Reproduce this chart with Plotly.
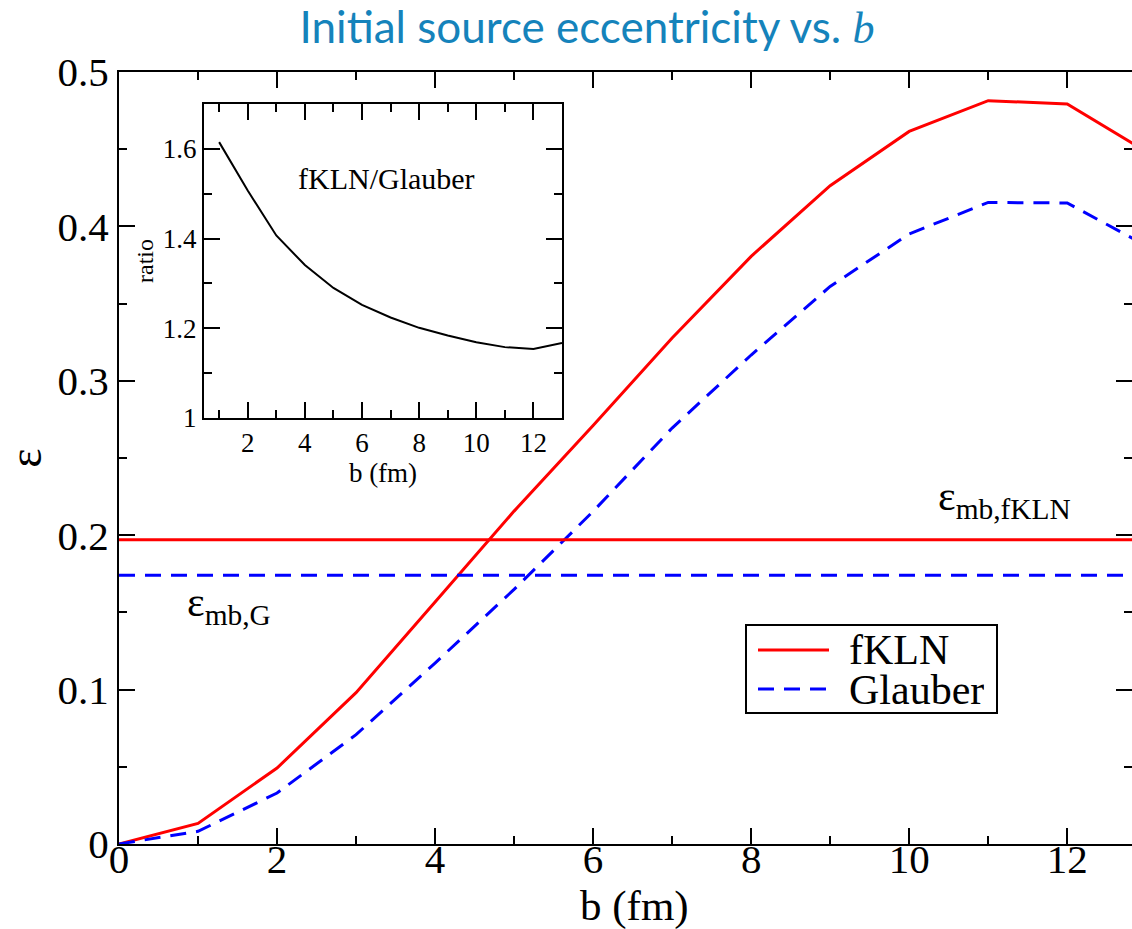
import plotly.graph_objects as go

# Impact parameter grid (fm)
b_fm = [0, 1, 2, 3, 4, 5, 6, 7, 8, 9, 10, 11, 12, 13]

# Initial source eccentricity for the two models
ecc_fkln = [0.0, 0.0133, 0.0492, 0.0980, 0.1567, 0.2156, 0.2710, 0.3277,
            0.3806, 0.4264, 0.4615, 0.4814, 0.4793, 0.4484]
ecc_glauber = [0.0, 0.0082, 0.0330, 0.0708, 0.1172, 0.1649, 0.2154, 0.2694,
               0.3167, 0.3611, 0.3951, 0.4155, 0.4152, 0.3875]

# Minimum-bias eccentricities
eps_mb_fkln = 0.197
eps_mb_glauber = 0.174

# Ratio fKLN/Glauber for the inset
b_ratio = [1, 2, 3, 4, 5, 6, 7, 8, 9, 10, 11, 12, 13]
ratio = [1.615, 1.507, 1.407, 1.341, 1.290, 1.252, 1.224, 1.201, 1.184,
         1.169, 1.158, 1.154, 1.167]

main_xticks = [0, 2, 4, 6, 8, 10, 12]
main_yticks = [0, 0.1, 0.2, 0.3, 0.4, 0.5]
main_ylabels = ["0", "0.1", "0.2", "0.3", "0.4", "0.5"]
inset_xticks = [2, 4, 6, 8, 10, 12]
inset_yticks = [1, 1.2, 1.4, 1.6]
inset_ylabels = ["1", "1.2", "1.4", "1.6"]

RED = "#ff0000"
BLUE = "#0000ff"
SERIF = "Liberation Serif"
DASH = "16px,10px"

W, H = 1132, 929
ML, MR, MT, MB = 119, 0, 72, 85
PW, PH = W - ML - MR, H - MT - MB
X_RANGE = [0, 12.82]


def px_x(px):
    return (px - ML) / PW


def px_y(py):
    return (H - MB - py) / PH


fig = go.Figure()

# Main curves
fig.add_trace(go.Scatter(x=b_fm, y=ecc_fkln, mode="lines", name="fKLN",
                         line=dict(color=RED, width=3), showlegend=False))
fig.add_trace(go.Scatter(x=b_fm, y=ecc_glauber, mode="lines", name="Glauber",
                         line=dict(color=BLUE, width=3, dash=DASH), showlegend=False))

# Minimum-bias levels
fig.add_trace(go.Scatter(x=[b_fm[0], b_fm[-1]], y=[eps_mb_fkln, eps_mb_fkln],
                         mode="lines", line=dict(color=RED, width=3), showlegend=False))
fig.add_trace(go.Scatter(x=[b_fm[0], b_fm[-1]], y=[eps_mb_glauber, eps_mb_glauber],
                         mode="lines", line=dict(color=BLUE, width=3, dash=DASH),
                         showlegend=False))

# Empty traces that carry the right-hand tick axis and the x tick-label axis
fig.add_trace(go.Scatter(x=[], y=[], yaxis="y2", showlegend=False))
fig.add_trace(go.Scatter(x=[], y=[], xaxis="x2", showlegend=False))

# Inset ratio curve
fig.add_trace(go.Scatter(x=b_ratio, y=ratio, mode="lines", xaxis="x3", yaxis="y3",
                         line=dict(color="black", width=2), showlegend=False))

axis_common = dict(showgrid=False, zeroline=False, showline=True, linecolor="black",
                   linewidth=2, ticks="inside", tickcolor="black", tickwidth=2,
                   ticklen=16, automargin=False)
minor_x = dict(dtick=1, ticklen=8, tickwidth=2, ticks="inside", tickcolor="black")
minor_y = dict(dtick=0.05, ticklen=8, tickwidth=2, ticks="inside", tickcolor="black")

fig.update_layout(
    width=W, height=H,
    margin=dict(l=ML, r=MR, t=MT, b=MB),
    paper_bgcolor="white", plot_bgcolor="white",
    font=dict(family=SERIF, color="black"),
    title=dict(
        text="Initial source eccentricity vs. <span style=\"font-family:'Liberation Serif'\"><i>b</i></span>",
        font=dict(family="Lato", size=44, color="#1583bb"),
        xref="container", yref="container", x=587 / W, xanchor="center",
        y=1 - 28 / H, yanchor="middle"),
    xaxis=dict(**axis_common, domain=[0, 1], range=X_RANGE, tickvals=main_xticks,
               mirror="ticks", showticklabels=False, minor=minor_x),
    # Tick labels for the main x axis, set slightly closer to the frame
    xaxis2=dict(overlaying="x", anchor="free", position=13 / PH, side="bottom",
                domain=[0, 1], range=X_RANGE, tickvals=main_xticks, ticks="",
                showline=False, showgrid=False, zeroline=False, automargin=False,
                tickfont=dict(size=41, family=SERIF)),
    yaxis=dict(**axis_common, domain=[0, 1], range=[0, 0.5], tickvals=main_yticks,
               ticktext=main_ylabels, mirror=False, minor=minor_y,
               tickfont=dict(size=41, family=SERIF),
               title=dict(text="ε", font=dict(size=46, family=SERIF), standoff=14)),
    yaxis2=dict(overlaying="y", side="right", anchor="x", range=[0, 0.5],
                tickvals=main_yticks, showticklabels=False, showgrid=False,
                zeroline=False, showline=False, ticks="inside", tickcolor="black",
                tickwidth=2, ticklen=16, automargin=False, minor=minor_y),
    xaxis3=dict(**axis_common, domain=[px_x(204), px_x(562)], anchor="y3",
                range=[0.47, 13.0], tickvals=inset_xticks, mirror="ticks",
                minor=minor_x,
                tickfont=dict(size=27, family=SERIF),
                title=dict(text="b (fm)", font=dict(size=27, family=SERIF), standoff=0)),
    yaxis3=dict(**axis_common, domain=[px_y(418), px_y(104)], anchor="x3",
                range=[1, 1.7], tickvals=inset_yticks, ticktext=inset_ylabels,
                mirror="ticks",
                minor=dict(dtick=0.1, ticklen=8, tickwidth=2, ticks="inside",
                           tickcolor="black"),
                tickfont=dict(size=27, family=SERIF),
                title=dict(text="ratio", font=dict(size=24, family=SERIF), standoff=2)),
)

annotations = [
    # Main x-axis title
    dict(text="b (fm)", x=px_x(634), y=px_y(906), xref="paper", yref="paper",
         xanchor="center", yanchor="middle", showarrow=False,
         font=dict(size=43, family=SERIF, color="black")),
    dict(text="ε<sub>mb,fKLN</sub>", x=px_x(936), y=px_y(499), xref="paper", yref="paper",
         xanchor="left", yanchor="middle", showarrow=False,
         font=dict(size=42, family=SERIF, color="black")),
    dict(text="ε<sub>mb,G</sub>", x=px_x(185), y=px_y(605), xref="paper", yref="paper",
         xanchor="left", yanchor="middle", showarrow=False,
         font=dict(size=42, family=SERIF, color="black")),
    dict(text="fKLN/Glauber", x=px_x(386), y=px_y(178), xref="paper", yref="paper",
         xanchor="center", yanchor="middle", showarrow=False,
         font=dict(size=30, family=SERIF, color="black")),
    # Legend entries
    dict(text="fKLN", x=px_x(847), y=px_y(650), xref="paper", yref="paper",
         xanchor="left", yanchor="middle", showarrow=False, height=38,
         font=dict(size=42, family=SERIF, color="black")),
    dict(text="Glauber", x=px_x(847), y=px_y(690), xref="paper", yref="paper",
         xanchor="left", yanchor="middle", showarrow=False, height=38,
         font=dict(size=42, family=SERIF, color="black")),
]
fig.update_layout(annotations=annotations)

shapes = [
    # Legend frame and line samples
    dict(type="rect", xref="paper", yref="paper", x0=px_x(746), x1=px_x(997),
         y0=px_y(713), y1=px_y(625), line=dict(color="black", width=2),
         fillcolor="white", layer="above"),
    dict(type="line", xref="paper", yref="paper", x0=px_x(758), x1=px_x(829),
         y0=px_y(650), y1=px_y(650), line=dict(color=RED, width=3)),
    dict(type="line", xref="paper", yref="paper", x0=px_x(758), x1=px_x(829),
         y0=px_y(689), y1=px_y(689), line=dict(color=BLUE, width=3, dash=DASH)),
]
fig.update_layout(shapes=shapes)

fig.write_html("out.html")
